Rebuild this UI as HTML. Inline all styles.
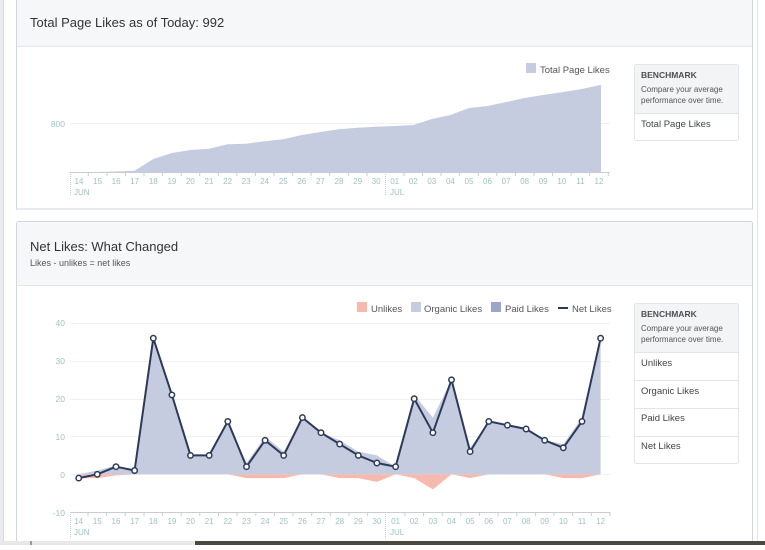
<!DOCTYPE html>
<html><head><meta charset="utf-8"><style>
html,body{margin:0;padding:0;background:#fff;}
body{width:765px;height:545px;overflow:hidden;position:relative;font-family:"Liberation Sans",sans-serif;}
svg text{font-family:"Liberation Sans",sans-serif;}
</style></head><body>
<svg width="765" height="545" viewBox="0 0 765 545" xmlns="http://www.w3.org/2000/svg">
<rect x="0" y="0" width="765" height="545" fill="#fff"/>
<rect x="0" y="0" width="3" height="545" fill="#e9ebf0"/>
<rect x="3" y="0" width="1" height="545" fill="#d8dbe0"/>
<rect x="757" y="0" width="1" height="545" fill="#e5e5e5"/>
<!-- card 1 -->
<rect x="16.5" y="-2" width="736" height="211" fill="#fff" stroke="#d3d6db"/>
<rect x="17" y="0" width="735" height="46" fill="#f6f7f9"/>
<line x1="17" y1="46.5" x2="752" y2="46.5" stroke="#e5e6e9"/>
<text x="30" y="27" font-size="13" fill="#333">Total Page Likes as of Today: 992</text>
<rect x="526" y="63" width="10" height="10" fill="#c5cce0"/>
<text x="540" y="73" font-size="9.5" fill="#555">Total Page Likes</text>
<line x1="70" y1="123.5" x2="610" y2="123.5" stroke="#eef0f2"/>
<text x="65" y="127" font-size="8.5" fill="#9fc2c2" text-anchor="end">800</text>
<polygon fill="#c5cce0" points="79,172.5 79,172.3 97.6,172 116.1,171.5 134.7,170.7 153.3,159 171.9,153 190.4,150 209,148.7 227.6,144.3 246.1,143.7 264.7,141.3 283.3,139.3 301.8,135 320.4,132 339,129.3 357.6,127.7 376.1,126.7 394.7,126 413.3,125 431.8,119 450.4,115 469,108 487.5,106 506.1,102 524.7,98 543.2,95 561.8,92.3 580.4,89.3 599,85.3 601,85 601,172.5"/>
<g stroke="#c9ccd1" stroke-width="1">
<line x1="70" y1="172.5" x2="610" y2="172.5"/>
<line x1="70.5" y1="172" x2="70.5" y2="195" stroke-dasharray="1,1"/>
<line x1="385.5" y1="172" x2="385.5" y2="195" stroke-dasharray="1,1"/>
</g>
<g stroke="#c9ccd1" id="t1">
<path d="M88.3 172v4M106.9 172v4M125.4 172v4M144 172v4M162.6 172v4M181.2 172v4M199.7 172v4M218.3 172v4M236.9 172v4M255.4 172v4M274 172v4M292.6 172v4M311.1 172v4M329.7 172v4M348.3 172v4M366.9 172v4M404 172v4M422.6 172v4M441.1 172v4M459.7 172v4M478.3 172v4M496.8 172v4M515.4 172v4M534 172v4M552.5 172v4M571.1 172v4M589.7 172v4M608.3 172v4"/>
</g>
<g font-size="8" fill="#9fc2c2" text-anchor="middle">
<text x="79" y="184">14</text><text x="97.6" y="184">15</text><text x="116.1" y="184">16</text><text x="134.7" y="184">17</text><text x="153.3" y="184">18</text><text x="171.9" y="184">19</text><text x="190.4" y="184">20</text><text x="209" y="184">21</text><text x="227.6" y="184">22</text><text x="246.1" y="184">23</text><text x="264.7" y="184">24</text><text x="283.3" y="184">25</text><text x="301.8" y="184">26</text><text x="320.4" y="184">27</text><text x="339" y="184">28</text><text x="357.6" y="184">29</text><text x="376.1" y="184">30</text><text x="394.7" y="184">01</text><text x="413.3" y="184">02</text><text x="431.8" y="184">03</text><text x="450.4" y="184">04</text><text x="469" y="184">05</text><text x="487.5" y="184">06</text><text x="506.1" y="184">07</text><text x="524.7" y="184">08</text><text x="543.2" y="184">09</text><text x="561.8" y="184">10</text><text x="580.4" y="184">11</text><text x="599" y="184">12</text>
</g>
<text x="74" y="195" font-size="8" fill="#9fc2c2">JUN</text>
<text x="390" y="195" font-size="8" fill="#9fc2c2">JUL</text>
<rect x="634.5" y="64.5" width="104" height="76" rx="2" fill="#fff" stroke="#e2e4e7"/>
<rect x="635" y="65" width="103" height="48" fill="#f3f4f6"/>
<line x1="635" y1="113.5" x2="738" y2="113.5" stroke="#e2e4e7"/>
<text x="641" y="78" font-size="8.5" font-weight="bold" fill="#4b4f56">BENCHMARK</text>
<text x="641" y="92" font-size="8" fill="#555">Compare your average</text>
<text x="641" y="103" font-size="8" fill="#555">performance over time.</text>
<text x="641" y="127" font-size="9.5" fill="#444">Total Page Likes</text>
<!-- card 2 -->
<rect x="16.5" y="221.5" width="736" height="330" rx="2" fill="#fff" stroke="#d3d6db"/>
<rect x="17" y="222" width="735" height="63" fill="#f6f7f9"/>
<line x1="17" y1="285.5" x2="752" y2="285.5" stroke="#e5e6e9"/>
<text x="30" y="251" font-size="13" fill="#333">Net Likes: What Changed</text>
<text x="30" y="266" font-size="9" fill="#555">Likes - unlikes = net likes</text>
<rect x="357" y="302" width="10" height="10" fill="#f6b9ae"/>
<text x="371" y="312" font-size="9.5" fill="#555">Unlikes</text>
<rect x="411" y="302" width="10" height="10" fill="#c5cce0"/>
<text x="424" y="312" font-size="9.5" fill="#555">Organic Likes</text>
<rect x="491" y="302" width="10" height="10" fill="#9aa7c9"/>
<text x="505" y="312" font-size="9.5" fill="#555">Paid Likes</text>
<rect x="558" y="307" width="10" height="2" fill="#2c3a5a"/>
<text x="572" y="312" font-size="9.5" fill="#555">Net Likes</text>
<g stroke="#eef0f2">
<line x1="70" y1="323.5" x2="610" y2="323.5"/>
<line x1="70" y1="361.5" x2="610" y2="361.5"/>
<line x1="70" y1="399.5" x2="610" y2="399.5"/>
<line x1="70" y1="436.5" x2="610" y2="436.5"/>
<line x1="70" y1="474.5" x2="610" y2="474.5"/>
</g>
<g font-size="8.5" fill="#9fc2c2" text-anchor="end">
<text x="65" y="326">40</text><text x="65" y="364">30</text><text x="65" y="402">20</text><text x="65" y="440">10</text><text x="65" y="478">0</text><text x="65" y="516">-10</text>
</g>
<polygon fill="#f6b9ae" points="78.7,474.3 78.7,478.1 97.3,478.1 116,475.4 134.6,474.3 227.8,474.3 246.5,478.1 265.1,478.1 283.7,478.1 302.4,474.3 321,474.3 339.7,478.1 358.3,478.1 376.9,481.9 395.6,474.3 414.2,478.1 432.9,489.4 451.5,474.3 470.1,478.1 488.8,474.3 544.7,474.3 563.3,478.1 582,478.1 600.6,474.3"/>
<polygon fill="#c5cce0" points="78.7,474.3 97.3,470.5 116,465.6 134.6,470.5 153.3,338.2 171.9,394.9 190.5,455.4 209.2,455.4 227.8,421.4 246.5,463 265.1,436.5 283.7,451.6 302.4,417.6 321,432.7 339.7,440.3 358.3,451.6 376.9,455.4 395.6,466.7 414.2,394.9 432.9,417.6 451.5,379.8 470.1,447.8 488.8,421.4 507.4,425.2 526.1,429 544.7,440.3 563.3,444.1 582,417.6 600.6,338.2 600.6,474.3"/>
<g stroke="#c9ccd1">
<line x1="70" y1="512.5" x2="610" y2="512.5"/>
<line x1="70.5" y1="512" x2="70.5" y2="537" stroke-dasharray="1,1"/>
<line x1="385.5" y1="512" x2="385.5" y2="537" stroke-dasharray="1,1"/>
<path d="M88 512v4M106.6 512v4M125.3 512v4M144 512v4M162.6 512v4M181.2 512v4M199.8 512v4M218.5 512v4M237.1 512v4M255.8 512v4M274.4 512v4M293 512v4M311.7 512v4M330.3 512v4M349 512v4M367.6 512v4M404.9 512v4M423.5 512v4M442.2 512v4M460.8 512v4M479.4 512v4M498.1 512v4M516.7 512v4M535.4 512v4M554 512v4M572.6 512v4M591.3 512v4M609.9 512v4"/>
</g>
<polyline fill="none" stroke="#2c3a5a" stroke-width="2" stroke-linejoin="round" points="78.7,478.1 97.3,474.3 116,466.7 134.6,470.5 153.3,338.2 171.9,394.9 190.5,455.4 209.2,455.4 227.8,421.4 246.5,466.7 265.1,440.3 283.7,455.4 302.4,417.6 321,432.7 339.7,444.1 358.3,455.4 376.9,463 395.6,466.7 414.2,398.7 432.9,432.7 451.5,379.8 470.1,451.6 488.8,421.4 507.4,425.2 526.1,429 544.7,440.3 563.3,447.8 582,421.4 600.6,338.2"/>
<g fill="#fff" stroke="#2c3a5a" stroke-width="1.5">
<circle cx="78.7" cy="478.1" r="2.7"/><circle cx="97.3" cy="474.3" r="2.7"/><circle cx="116" cy="466.7" r="2.7"/><circle cx="134.6" cy="470.5" r="2.7"/><circle cx="153.3" cy="338.2" r="2.7"/><circle cx="171.9" cy="394.9" r="2.7"/><circle cx="190.5" cy="455.4" r="2.7"/><circle cx="209.2" cy="455.4" r="2.7"/><circle cx="227.8" cy="421.4" r="2.7"/><circle cx="246.5" cy="466.7" r="2.7"/><circle cx="265.1" cy="440.3" r="2.7"/><circle cx="283.7" cy="455.4" r="2.7"/><circle cx="302.4" cy="417.6" r="2.7"/><circle cx="321" cy="432.7" r="2.7"/><circle cx="339.7" cy="444.1" r="2.7"/><circle cx="358.3" cy="455.4" r="2.7"/><circle cx="376.9" cy="463" r="2.7"/><circle cx="395.6" cy="466.7" r="2.7"/><circle cx="414.2" cy="398.7" r="2.7"/><circle cx="432.9" cy="432.7" r="2.7"/><circle cx="451.5" cy="379.8" r="2.7"/><circle cx="470.1" cy="451.6" r="2.7"/><circle cx="488.8" cy="421.4" r="2.7"/><circle cx="507.4" cy="425.2" r="2.7"/><circle cx="526.1" cy="429" r="2.7"/><circle cx="544.7" cy="440.3" r="2.7"/><circle cx="563.3" cy="447.8" r="2.7"/><circle cx="582" cy="421.4" r="2.7"/><circle cx="600.6" cy="338.2" r="2.7"/>
</g>
<g font-size="8" fill="#9fc2c2" text-anchor="middle">
<text x="78.7" y="524">14</text><text x="97.3" y="524">15</text><text x="116" y="524">16</text><text x="134.6" y="524">17</text><text x="153.3" y="524">18</text><text x="171.9" y="524">19</text><text x="190.5" y="524">20</text><text x="209.2" y="524">21</text><text x="227.8" y="524">22</text><text x="246.5" y="524">23</text><text x="265.1" y="524">24</text><text x="283.7" y="524">25</text><text x="302.4" y="524">26</text><text x="321" y="524">27</text><text x="339.7" y="524">28</text><text x="358.3" y="524">29</text><text x="376.9" y="524">30</text><text x="395.6" y="524">01</text><text x="414.2" y="524">02</text><text x="432.9" y="524">03</text><text x="451.5" y="524">04</text><text x="470.1" y="524">05</text><text x="488.8" y="524">06</text><text x="507.4" y="524">07</text><text x="526.1" y="524">08</text><text x="544.7" y="524">09</text><text x="563.3" y="524">10</text><text x="582" y="524">11</text><text x="600.6" y="524">12</text>
</g>
<text x="74" y="535" font-size="8" fill="#9fc2c2">JUN</text>
<text x="390" y="535" font-size="8" fill="#9fc2c2">JUL</text>
<rect x="634.5" y="303.5" width="104" height="160" rx="2" fill="#fff" stroke="#e2e4e7"/>
<rect x="635" y="304" width="103" height="48" fill="#f3f4f6"/>
<g stroke="#e2e4e7">
<line x1="635" y1="352.5" x2="738" y2="352.5"/>
<line x1="635" y1="380.5" x2="738" y2="380.5"/>
<line x1="635" y1="408.5" x2="738" y2="408.5"/>
<line x1="635" y1="436.5" x2="738" y2="436.5"/>
</g>
<text x="641" y="317" font-size="8.5" font-weight="bold" fill="#4b4f56">BENCHMARK</text>
<text x="641" y="331" font-size="8" fill="#555">Compare your average</text>
<text x="641" y="342" font-size="8" fill="#555">performance over time.</text>
<text x="641" y="366" font-size="9.5" fill="#444">Unlikes</text>
<text x="641" y="394" font-size="9.5" fill="#444">Organic Likes</text>
<text x="641" y="421" font-size="9.5" fill="#444">Paid Likes</text>
<text x="641" y="449" font-size="9.5" fill="#444">Net Likes</text>
<!-- bottom bar -->
<rect x="0" y="541" width="765" height="4" fill="#e8e8e8"/>
<rect x="30" y="541" width="2" height="4" fill="#999"/>
<rect x="195" y="541" width="570" height="4" fill="#4a4a40"/>
</svg>
</body></html>
